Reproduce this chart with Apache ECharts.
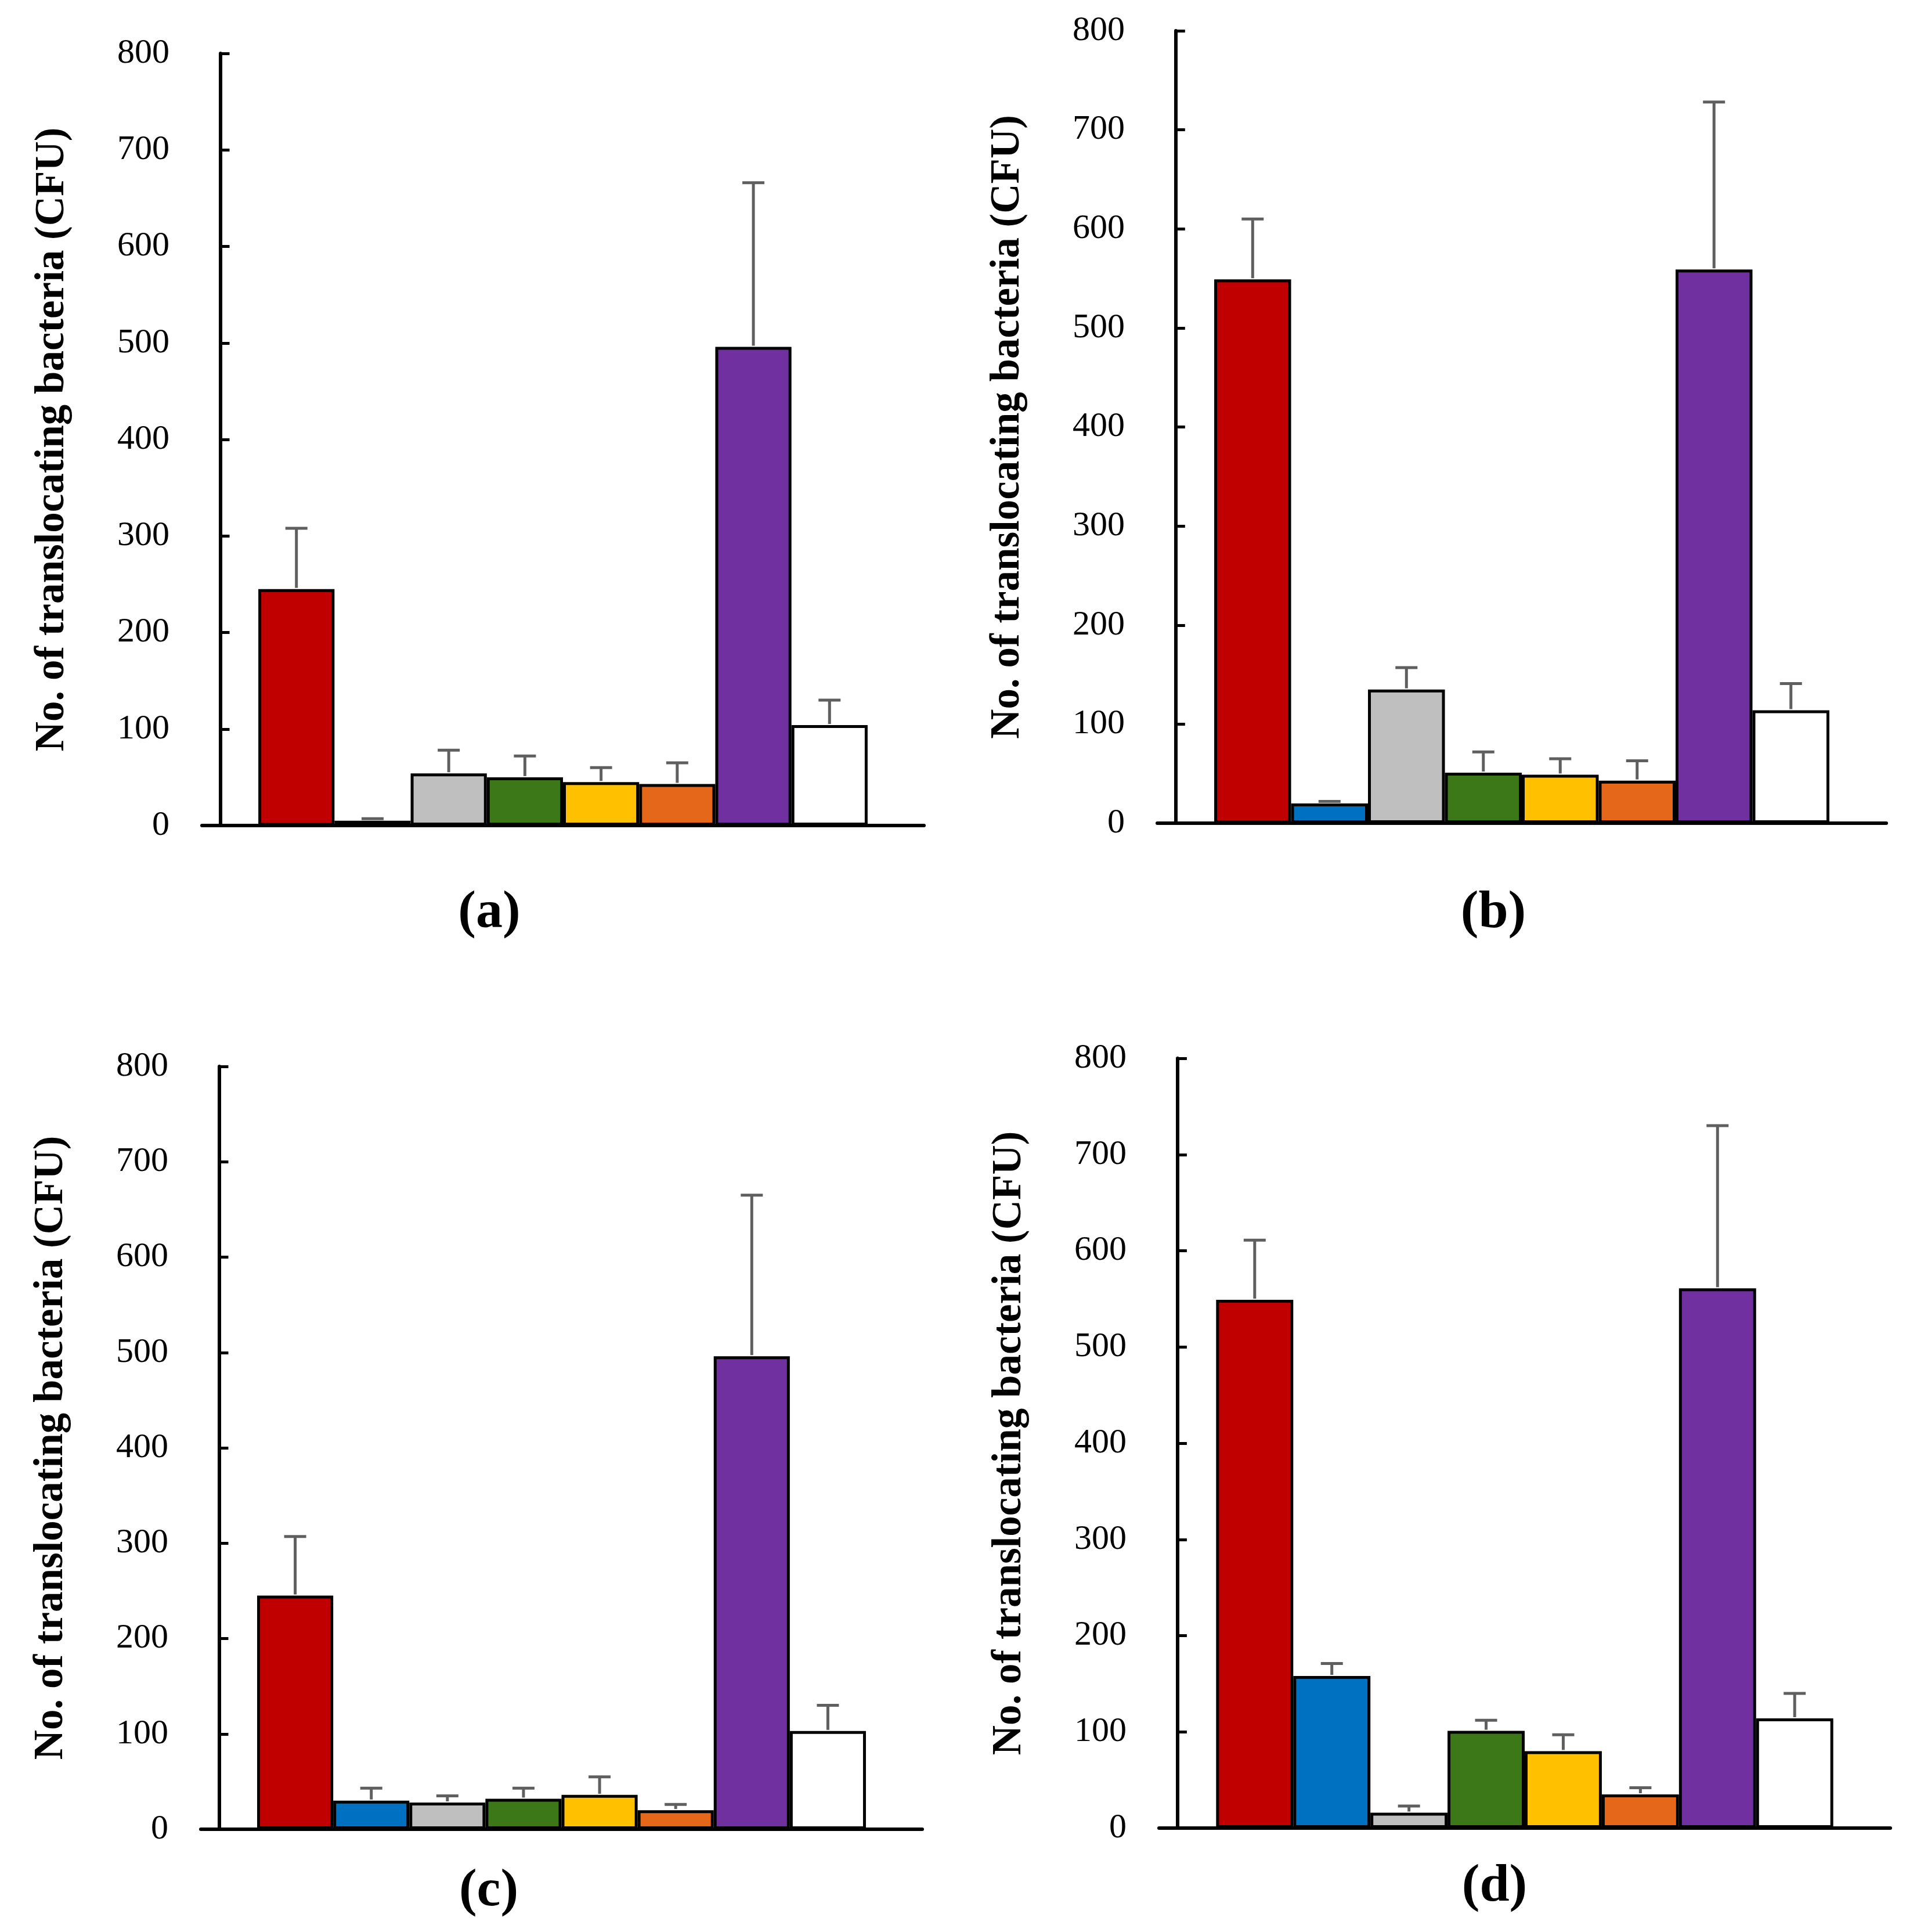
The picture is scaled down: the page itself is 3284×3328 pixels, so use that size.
<!DOCTYPE html>
<html>
<head>
<meta charset="utf-8">
<style>
  html, body { margin: 0; padding: 0; background: #ffffff; }
  #chart { width: 3284px; height: 3328px; }
</style>
<script src="https://cdn.jsdelivr.net/npm/echarts@6/dist/echarts.min.js"></script>
</head>
<body>
<div id="chart"></div>
<script>
// ---- data ----
const groups = ['1', '2', '3', '4', '5', '6', '7', '8'];
const barColors = ['#C00000', '#0070C0', '#BFBFBF', '#3C7817', '#FFC000', '#E5681A', '#7030A0', '#FFFFFF'];
const yTicks = ['0', '100', '200', '300', '400', '500', '600', '700', '800'];
const panelLabels = ['(a)', '(b)', '(c)', '(d)'];
const yTitle = 'No. of translocating bacteria (CFU)';

const meansA = [245, 5, 54, 50, 45, 43, 496, 104];
const errA   = [63, 2, 24, 22, 15, 22, 170, 26];
const meansB = [549, 20, 135, 51, 49, 43, 559, 114];
const errB   = [61, 2, 22, 21, 16, 20, 169, 27];
const meansC = [245, 30, 28, 32, 36, 20, 496, 103];
const errC   = [62, 13, 7, 11, 19, 6, 169, 27];
const meansD = [549, 158, 16, 101, 80, 35, 561, 114];
const errD   = [62, 13, 7, 11, 17, 7, 169, 26];

// ---- layout ----
const grids = [
  { left: 348,  top: 92,   width: 1244, height: 1330 },
  { left: 1994, top: 53,   width: 1256, height: 1365 },
  { left: 346,  top: 1837, width: 1243, height: 1314 },
  { left: 1997, top: 1823, width: 1260, height: 1326 }
];
const labelPos = [
  { x: 843, y: 1527 },
  { x: 2573, y: 1527 },
  { x: 842, y: 3212 },
  { x: 2575, y: 3204 }
];
const allMeans = [meansA, meansB, meansC, meansD];
const allErrs = [errA, errB, errC, errD];

const FONT = '"Liberation Serif", "Times New Roman", serif';

const option = {
  backgroundColor: '#ffffff',
  animation: false,
  title: panelLabels.map((t, i) => ({
    text: t,
    left: labelPos[i].x,
    top: labelPos[i].y,
    textAlign: 'center',
    padding: 0,
    textStyle: { fontFamily: FONT, fontWeight: 'bold', fontSize: 92, color: '#000' }
  })),
  grid: grids.map(g => Object.assign({ containLabel: false }, g)),
  xAxis: grids.map((g, i) => ({
    type: 'value',
    gridIndex: i,
    min: -0.24,
    max: 9.24,
    axisLine: { show: true, onZero: false, lineStyle: { color: '#000', width: 6 } },
    axisTick: { show: false },
    axisLabel: { show: false },
    splitLine: { show: false }
  })),
  yAxis: grids.map((g, i) => ({
    type: 'value',
    gridIndex: i,
    min: 0,
    max: 800,
    interval: 100,
    name: yTitle,
    nameLocation: 'middle',
    nameGap: 222,
    nameTextStyle: { fontFamily: FONT, fontWeight: 'bold', fontSize: 71, color: '#000' },
    axisLine: { show: true, lineStyle: { color: '#000', width: 6 } },
    axisTick: { show: true, inside: true, length: 16, lineStyle: { color: '#000', width: 5 } },
    axisLabel: {
      margin: 56,
      fontFamily: FONT, fontSize: 60, color: '#000',
      formatter: v => yTicks[Math.round(v / 100)]
    },
    splitLine: { show: false }
  })),
  series: []
};

allMeans.forEach((means, i) => {
  option.series.push({
    type: 'bar',
    xAxisIndex: i,
    yAxisIndex: i,
    barWidth: '100%',
    data: means.map((m, k) => ({
      value: [k + 1, m],
      itemStyle: { color: barColors[k], borderColor: '#000', borderWidth: 5 }
    })),
    z: 2
  });
  option.series.push({
    type: 'custom',
    xAxisIndex: i,
    yAxisIndex: i,
    z: 3,
    data: means.map((m, k) => [k + 1, m, m + allErrs[i][k]]),
    renderItem: function (params, api) {
      const base = api.coord([api.value(0), api.value(1)]);
      const top = api.coord([api.value(0), api.value(2)]);
      const half = 19;
      const st = { stroke: '#5F5F5F', lineWidth: 5 };
      return {
        type: 'group',
        children: [
          { type: 'line', shape: { x1: base[0], y1: base[1] - 2, x2: top[0], y2: top[1] }, style: st },
          { type: 'line', shape: { x1: top[0] - half, y1: top[1], x2: top[0] + half, y2: top[1] }, style: st }
        ]
      };
    }
  });
});

const chart = echarts.init(document.getElementById('chart'), null, { renderer: 'canvas' });
chart.setOption(option);
</script>
</body>
</html>
